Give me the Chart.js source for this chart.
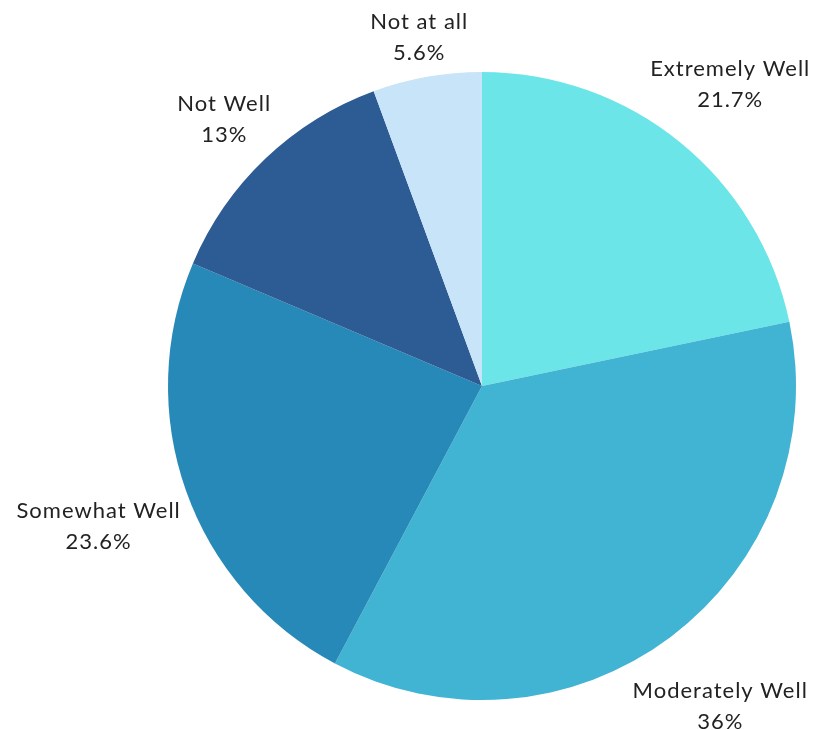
<!DOCTYPE html>
<html>
<head>
<meta charset="utf-8">
<script src="https://cdn.jsdelivr.net/npm/chart.js@4"></script>
<style>
  body { margin: 0; background: #fff; }
</style>
</head>
<body>
<canvas id="pieChart" width="813" height="730"></canvas>
<script>
const labels = ["Extremely Well", "Moderately Well", "Somewhat Well", "Not Well", "Not at all"];
const values = [21.7, 36, 23.6, 13, 5.6];
const valueLabels = ["21.7%", "36%", "23.6%", "13%", "5.6%"];
const colors = ["#6ce5e8", "#41b3d3", "#2789b8", "#2d5b94", "#c8e4f8"];

// draws the two-line labels just outside each slice
const outsideLabels = {
  id: "outsideLabels",
  afterDraw(chart) {
    const ctx = chart.ctx;
    const meta = chart.getDatasetMeta(0);
    ctx.save();
    ctx.font = "22px Lato";
    ctx.letterSpacing = "1px";
    ctx.fillStyle = "#222";
    ctx.textAlign = "center";
    ctx.textBaseline = "middle";
    const lineH = 31;
    meta.data.forEach(function (arc, i) {
      const mid = (arc.startAngle + arc.endAngle) / 2;
      const w = Math.max(ctx.measureText(labels[i]).width, ctx.measureText(valueLabels[i]).width);
      const halfW = w / 2;
      const halfH = lineH;
      const ux = Math.cos(mid);
      const uy = Math.sin(mid);
      const d = arc.outerRadius + 5 + Math.abs(ux) * halfW + Math.abs(uy) * halfH;
      const x = arc.x + ux * d;
      const y = arc.y + uy * d + 4;
      ctx.fillText(labels[i], x, y - lineH / 2);
      ctx.fillText(valueLabels[i], x, y + lineH / 2);
    });
    ctx.restore();
  },
};

const config = {
  type: "pie",
  data: {
    labels: labels,
    datasets: [
      {
        data: values,
        backgroundColor: colors,
        borderWidth: 0,
      },
    ],
  },
  options: {
    responsive: false,
    animation: false,
    layout: {
      padding: { left: 168, right: 17, top: 72, bottom: 30 },
    },
    plugins: {
      legend: { display: false },
      tooltip: { enabled: false },
    },
  },
  plugins: [outsideLabels],
};

new Chart(document.getElementById("pieChart"), config);
</script>
</body>
</html>
